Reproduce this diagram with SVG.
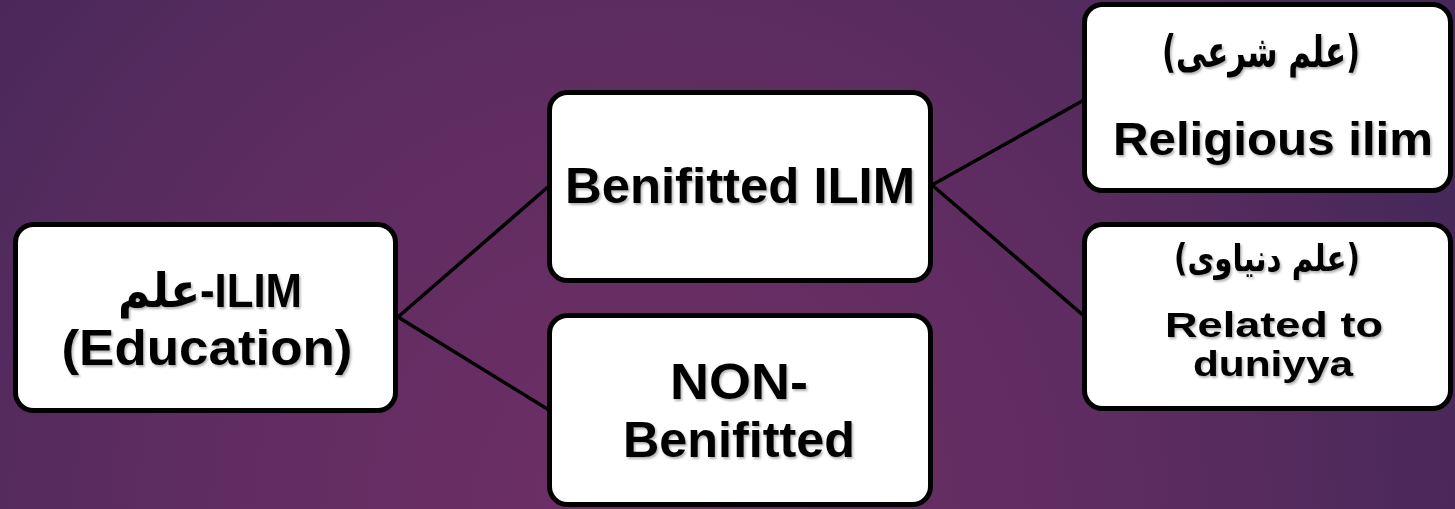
<svg xmlns="http://www.w3.org/2000/svg" width="1455" height="509" viewBox="0 0 1455 509">
  <defs>
    <radialGradient id="bg" cx="640" cy="509" r="900" gradientUnits="userSpaceOnUse">
      <stop offset="0" stop-color="#6f2f66"/>
      <stop offset="0.55" stop-color="#5d2c60"/>
      <stop offset="1" stop-color="#452859"/>
    </radialGradient>
    <filter id="sh" x="-10%" y="-20%" width="120%" height="150%">
      <feDropShadow dx="1.5" dy="2" stdDeviation="1.2" flood-color="#000" flood-opacity="0.3"/>
    </filter>
  </defs>
  <style>
    .box { fill: #ffffff; stroke: #000000; stroke-width: 5; }
    .conn { stroke: #000000; stroke-width: 3.5; fill: none; }
    .t { font-family: "Liberation Sans", "DejaVu Sans", Arial, sans-serif; font-weight: bold; fill: #000000; text-anchor: middle; }
    .ar { font-family: "DejaVu Sans", "Liberation Sans", sans-serif; font-weight: bold; fill: #000000; text-anchor: middle; }
  </style>
  <rect x="0" y="0" width="1455" height="509" fill="url(#bg)"/>

  <g id="connectors">
    <line class="conn" x1="398" y1="317" x2="549" y2="186"/>
    <line class="conn" x1="398" y1="317" x2="549" y2="410"/>
    <line class="conn" x1="932" y1="185" x2="1084" y2="100"/>
    <line class="conn" x1="932" y1="185" x2="1084" y2="316"/>
  </g>

  <g id="node-ilim">
    <rect class="box" x="15.5" y="224.5" width="380" height="186" rx="18"/>
    <g filter="url(#sh)">
      <text class="t" x="210" y="307" font-size="48" textLength="184" lengthAdjust="spacingAndGlyphs">علم-ILIM</text>
      <text class="t" x="207" y="365" font-size="50" textLength="291" lengthAdjust="spacingAndGlyphs">(Education)</text>
    </g>
  </g>

  <g id="node-benifitted">
    <rect class="box" x="549.5" y="92.5" width="381" height="188" rx="18"/>
    <g filter="url(#sh)">
      <text class="t" x="740" y="203" font-size="50" textLength="350" lengthAdjust="spacingAndGlyphs">Benifitted ILIM</text>
    </g>
  </g>

  <g id="node-non-benifitted">
    <rect class="box" x="549.5" y="315.5" width="381" height="189" rx="18"/>
    <g filter="url(#sh)">
      <text class="t" x="739" y="399" font-size="50" textLength="138" lengthAdjust="spacingAndGlyphs">NON-</text>
      <text class="t" x="739" y="457" font-size="50" textLength="232" lengthAdjust="spacingAndGlyphs">Benifitted</text>
    </g>
  </g>

  <g id="node-religious">
    <rect class="box" x="1084.5" y="4.5" width="366" height="186" rx="18"/>
    <g filter="url(#sh)">
      <text class="ar" x="1261" y="67" font-size="44" textLength="198" lengthAdjust="spacingAndGlyphs">(علم شرعی)</text>
      <text class="t" x="1273" y="155" font-size="46" textLength="320" lengthAdjust="spacingAndGlyphs">Religious ilim</text>
    </g>
  </g>

  <g id="node-duniyya">
    <rect class="box" x="1084.5" y="224.5" width="366" height="184" rx="18"/>
    <g filter="url(#sh)">
      <text class="ar" x="1267" y="271" font-size="37" textLength="186" lengthAdjust="spacingAndGlyphs">(علم دنیاوی)</text>
      <text class="t" x="1274" y="337" font-size="35" textLength="218" lengthAdjust="spacingAndGlyphs">Related to</text>
      <text class="t" x="1273" y="376" font-size="35" textLength="160" lengthAdjust="spacingAndGlyphs">duniyya</text>
    </g>
  </g>
</svg>
